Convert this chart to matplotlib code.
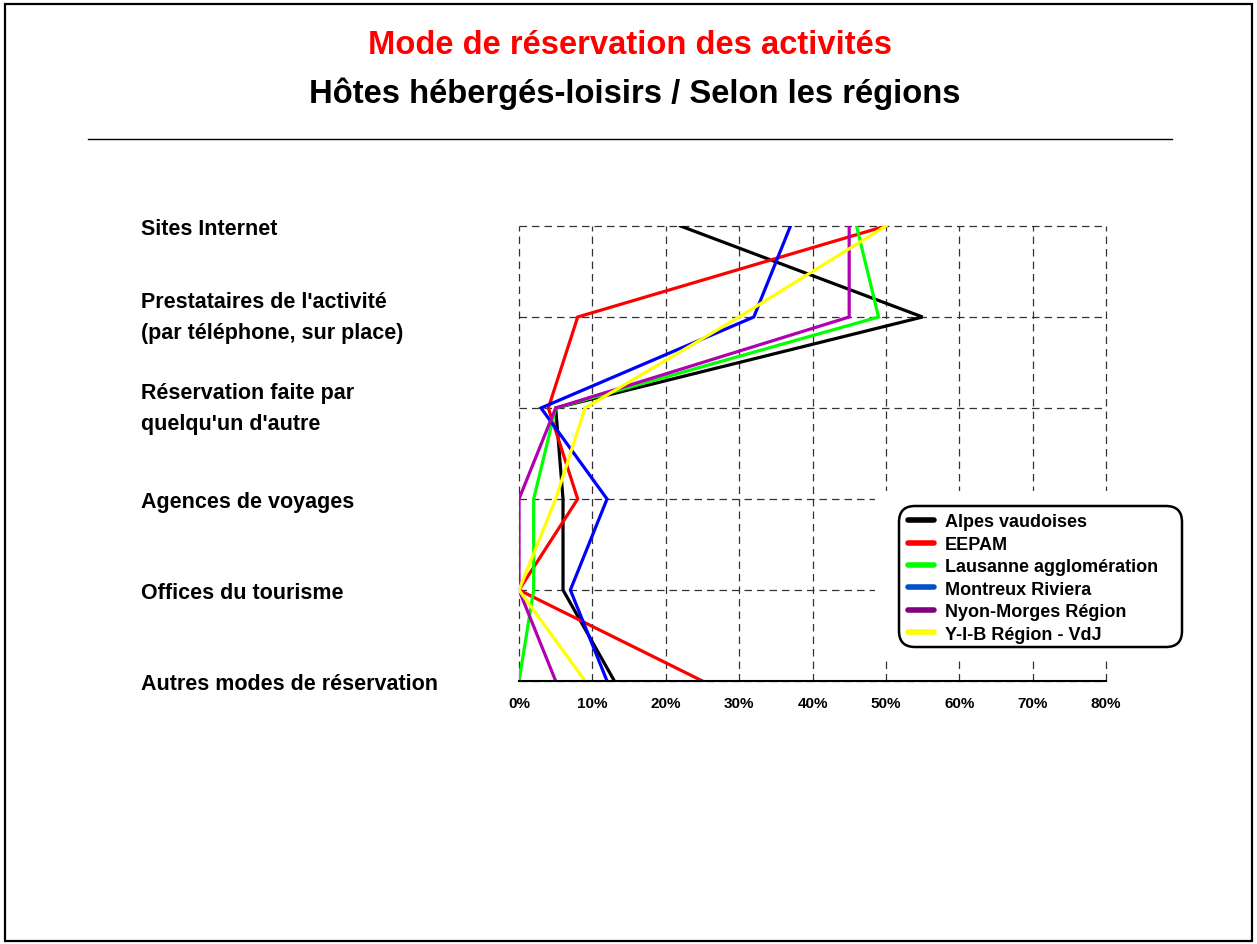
import matplotlib
matplotlib.use("Agg")
import matplotlib.pyplot as plt
from matplotlib.lines import Line2D
from matplotlib.patches import Rectangle, FancyBboxPatch
from matplotlib.ticker import FuncFormatter

plt.rcParams['font.family'] = ['Liberation Sans', 'DejaVu Sans']

categories = ["Sites Internet",
              "Prestataires de l'activité\n(par téléphone, sur place)",
              "Réservation faite par\nquelqu'un d'autre",
              "Agences de voyages",
              "Offices du tourisme",
              "Autres modes de réservation"]

series_names = ["Alpes vaudoises", "EEPAM", "Lausanne agglomération",
                "Montreux Riviera", "Nyon-Morges Région", "Y-I-B Région - VdJ"]
alpes = [22, 55, 5, 6, 6, 13]
eepam = [50, 8, 4, 8, 0, 25]
lausanne = [46, 49, 5, 2, 2, 0]
montreux = [37, 32, 3, 12, 7, 12]
nyon = [45, 45, 5, 0, 0, 5]
yib = [50, 30, 9, 5, 0, 9]
series_values = [alpes, eepam, lausanne, montreux, nyon, yib]

line_colors = ["#000000", "#ff0000", "#00ff00", "#0000ff", "#b000b0", "#ffff00"]
legend_colors = ["#000000", "#ff0000", "#00ff00", "#0050c8", "#800080", "#ffff00"]
x_ticks = [0, 10, 20, 30, 40, 50, 60, 70, 80]

W, H = 1257, 945
fig = plt.figure(figsize=(W / 100, H / 100), dpi=100)

# border
fig.patches.append(Rectangle((5 / W, 3 / H), 1247 / W, 937 / H, transform=fig.transFigure,
                             fill=False, edgecolor='black', lw=1.6))
# titles
fig.text(630 / W, 1 - 45 / H, "Mode de réservation des activités", color='red',
         fontsize=23.6, fontweight='bold', ha='center', va='center')
fig.text(635 / W, 1 - 94 / H, "Hôtes hébergés-loisirs / Selon les régions", color='black',
         fontsize=23.6, fontweight='bold', ha='center', va='center')
fig.add_artist(Line2D([88 / W, 1172 / W], [1 - 140 / H, 1 - 140 / H], transform=fig.transFigure,
                      color='black', lw=1))

left, right, top, bottom = 519, 1106, 227, 682
ax = fig.add_axes([left / W, 1 - bottom / H, (right - left) / W, (bottom - top) / H])
ypos = list(range(len(categories)))
for name, vals, col in zip(series_names, series_values, line_colors):
    ax.plot(vals, ypos, color=col, lw=2.3, label=name, zorder=3, solid_joinstyle='miter')

ax.set_xlim(0, 80)
ax.set_ylim(len(categories) - 1, 0)
ax.set_xticks(x_ticks)
ax.xaxis.set_major_formatter(FuncFormatter(lambda v, p: f"{int(v)}%"))
ax.set_yticks(ypos)
ax.set_yticklabels(categories)
for lab in ax.get_yticklabels():
    lab.set_ha('left')
    lab.set_fontsize(15.5)
    lab.set_fontweight('bold')
    lab.set_linespacing(1.66)
    if "\n" in lab.get_text():
        lab.set_va('center')
for lab in ax.get_xticklabels():
    lab.set_fontsize(11)
    lab.set_fontweight('bold')
ax.tick_params(axis='y', length=0, pad=(left - 141) * 0.72)
ax.tick_params(axis='x', length=0, pad=11)
ax.grid(True, color='#333333', ls=(0, (6, 4)), lw=0.9, zorder=1)
for gl in ax.get_xgridlines() + ax.get_ygridlines():
    gl.set_clip_on(False)
for s in ['top', 'right', 'left']:
    ax.spines[s].set_visible(False)
ax.spines['bottom'].set_linewidth(1.5)
ax.spines['bottom'].set_zorder(4)
ax.patch.set_visible(False)

# white area hiding grid behind legend
fig.patches.append(Rectangle((875 / W, 1 - 658 / H), 250 / W, 166 / H, transform=fig.transFigure,
                             facecolor='white', edgecolor='none', zorder=2))
# rounded legend box
fig.patches.append(FancyBboxPatch((8.99, (H - 648) / 100), 2.83, 1.41,
                                  boxstyle='round,pad=0,rounding_size=0.16',
                                  transform=fig.dpi_scale_trans, facecolor='white',
                                  edgecolor='black', lw=1.8, zorder=2.5))

handles = [Line2D([0], [0], color=c, lw=4, solid_capstyle='round') for c in legend_colors]
leg = fig.legend(handles, series_names, loc='upper left',
                 bbox_to_anchor=(903 / W, 1 - 509 / H), frameon=False,
                 prop={'weight': 'bold', 'size': 13}, handlelength=1.4, handletextpad=0.6,
                 labelspacing=0.30, borderpad=0.3, borderaxespad=0)

fig.savefig("out.png", dpi=100)
